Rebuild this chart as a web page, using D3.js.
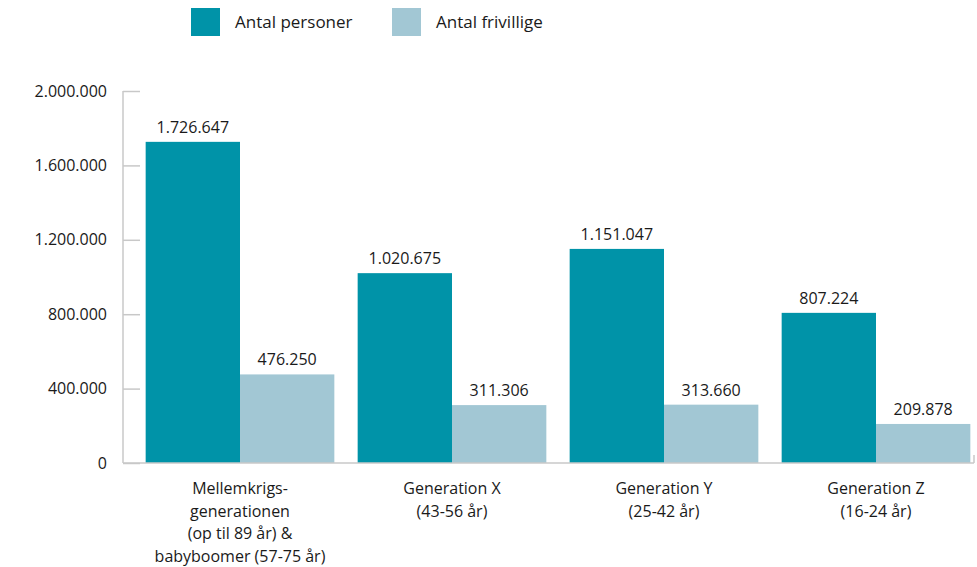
<!DOCTYPE html>
<html>
<head>
<meta charset="utf-8">
<script src="https://cdn.jsdelivr.net/npm/d3@7"></script>
<style>
  body { margin: 0; background: #fff; }
  text { font-family: "Open Sans", sans-serif; fill: #1a1a1a; }
</style>
</head>
<body>
<svg id="chart" width="977" height="567"></svg>
<script>
// data
var categories = [
  ["Mellemkrigs-", "generationen", "(op til 89 år) &", "babyboomer (57-75 år)"],
  ["Generation X", "(43-56 år)"],
  ["Generation Y", "(25-42 år)"],
  ["Generation Z", "(16-24 år)"]
];
var seriesNames = ["Antal personer", "Antal frivillige"];
var personer = [1726647, 1020675, 1151047, 807224];
var frivillige = [476250, 311306, 313660, 209878];
var yTicks = [0, 400000, 800000, 1200000, 1600000, 2000000];

var colors = ["#0093a8", "#a2c7d4"];
var svg = d3.select("#chart");

var fmt = function (v) {
  return d3.format(",")(v).replace(/,/g, ".");
};

var y = d3.scaleLinear().domain([0, 2000000]).range([463, 91]);
var x0 = d3.scaleBand().domain(d3.range(categories.length)).range([134, 982]).paddingInner(0.11).paddingOuter(0.055);
var x1 = d3.scaleBand().domain([0, 1]).range([0, x0.bandwidth()]);

// y axis
var yAxis = svg.append("g").attr("transform", "translate(123,0)")
  .call(d3.axisRight(y).tickValues(yTicks).tickSize(17).tickFormat(""));
yAxis.select(".domain").remove();
yAxis.selectAll("line").attr("stroke", "#c8c8c8").attr("stroke-width", 1.5);
svg.append("line").attr("x1", 123).attr("x2", 123).attr("y1", 91).attr("y2", 463)
  .attr("stroke", "#c8c8c8").attr("stroke-width", 1.5);

svg.selectAll(".ylab").data(yTicks).enter().append("text")
  .attr("x", 107).attr("y", function (d) { return y(d); })
  .attr("dy", "0.35em").attr("text-anchor", "end")
  .style("font-size", "16px")
  .text(function (d) { return d === 0 ? "0" : fmt(d); });

// bars
var rows = categories.map(function (c, i) {
  return { i: i, vals: [personer[i], frivillige[i]] };
});
var groups = svg.selectAll(".grp").data(rows).enter().append("g")
  .attr("transform", function (d) { return "translate(" + x0(d.i) + ",0)"; });

groups.selectAll("rect").data(function (d) { return d.vals; }).enter().append("rect")
  .attr("x", function (d, j) { return x1(j); })
  .attr("y", function (d) { return y(d); })
  .attr("width", x1.bandwidth())
  .attr("height", function (d) { return y(0) - y(d); })
  .attr("fill", function (d, j) { return colors[j]; });

groups.selectAll(".val").data(function (d) { return d.vals; }).enter().append("text")
  .attr("x", function (d, j) { return x1(j) + x1.bandwidth() / 2; })
  .attr("y", function (d) { return y(d) - 9; })
  .attr("text-anchor", "middle")
  .style("font-size", "16px")
  .text(function (d) { return fmt(d); });

// x axis line
svg.append("line").attr("x1", 123).attr("x2", 974).attr("y1", 463).attr("y2", 463)
  .attr("stroke", "#c8c8c8").attr("stroke-width", 1.5);
svg.append("line").attr("x1", 974).attr("x2", 974).attr("y1", 455).attr("y2", 463)
  .attr("stroke", "#c8c8c8").attr("stroke-width", 1.5);

// category labels
groups.append("text")
  .attr("text-anchor", "middle")
  .style("font-size", "16px")
  .selectAll("tspan").data(function (d) { return categories[d.i]; }).enter().append("tspan")
  .attr("x", x0.bandwidth() / 2)
  .attr("y", function (d, k) { return 494 + k * 22.7; })
  .text(function (d) { return d; });

// legend
var legend = svg.selectAll(".leg").data(seriesNames).enter().append("g")
  .attr("transform", function (d, i) { return "translate(" + (191 + i * 201) + ",8)"; });
legend.append("rect").attr("width", 29).attr("height", 28)
  .attr("fill", function (d, i) { return colors[i]; });
legend.append("text").attr("x", 44).attr("y", 14).attr("dy", "0.35em")
  .style("font-size", "17px")
  .text(function (d) { return d; });
</script>
</body>
</html>
